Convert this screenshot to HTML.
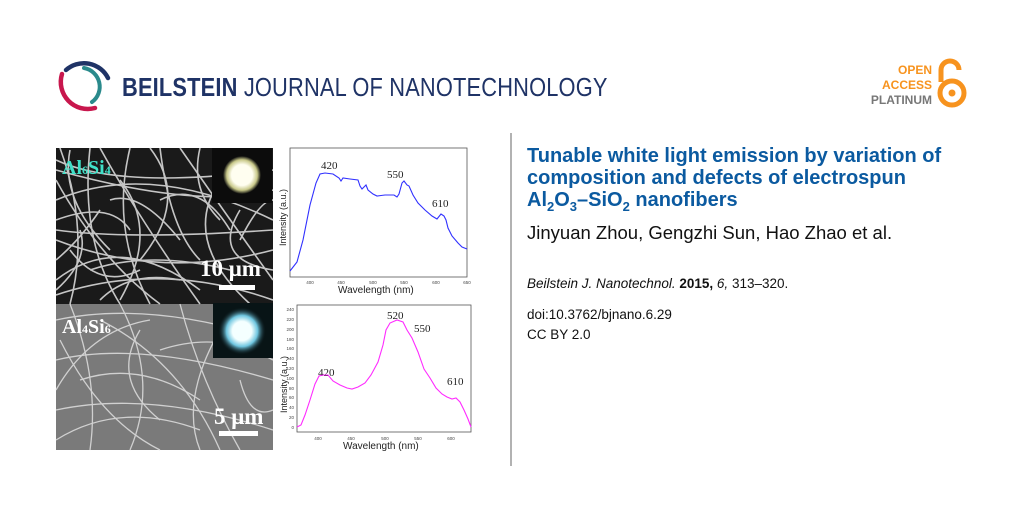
<!DOCTYPE html>
<html><head><meta charset="utf-8"><style>
body{margin:0;width:1024px;height:512px;background:#fff;overflow:hidden;position:relative;font-family:"Liberation Sans",sans-serif}
.a{position:absolute;white-space:nowrap}
</style></head><body>
<svg class="a" style="left:0;top:0" width="1024" height="512">
<!-- logo -->
<path d="M66 70 A27 27 0 0 1 108 78" fill="none" stroke="#1f3366" stroke-width="4.5" stroke-linecap="round"/>
<path d="M62 74 A27 27 0 0 0 95 108" fill="none" stroke="#c8174d" stroke-width="4.5" stroke-linecap="round"/>
<path d="M84 68 A19 19 0 0 1 92 102" fill="none" stroke="#2a8a8c" stroke-width="4" stroke-linecap="round"/>
<!-- lock -->
<path d="M941 82 L941 70 A9 9 0 0 1 959 70" fill="none" stroke="#f7931e" stroke-width="5"/>
<circle cx="952" cy="93" r="12" fill="none" stroke="#f7931e" stroke-width="5"/>
<circle cx="952" cy="93" r="3.5" fill="#f7931e"/>
<line x1="511" y1="133" x2="511" y2="466" stroke="#999" stroke-width="1.5"/>
<!-- SEM images -->
<rect x="56" y="148" width="217" height="156" fill="#1a1a1a"/>
<rect x="56" y="304" width="217" height="146" fill="#7a7a7a"/>
<g fill="none" stroke="#d8d8d8" stroke-width="1.6" opacity=".9">
<path d="M56 160 Q120 190 273 170"/><path d="M60 148 Q90 230 70 304"/><path d="M100 148 Q140 220 200 304"/>
<path d="M56 200 Q150 160 273 220"/><path d="M56 240 Q160 280 273 250"/><path d="M130 148 Q110 230 150 304"/>
<path d="M56 280 Q120 230 200 290"/><path d="M180 148 Q230 220 273 280"/><path d="M56 180 Q100 260 160 304"/>
<path d="M150 148 Q190 200 140 260"/><path d="M220 180 Q180 240 250 304"/><path d="M56 220 Q110 200 130 230"/>
<path d="M90 270 Q150 250 230 270"/><path d="M160 200 Q200 180 230 230"/><path d="M70 150 Q60 200 110 250"/>
<path d="M200 148 Q190 190 220 220"/><path d="M100 300 Q130 270 180 280"/><path d="M240 240 Q260 200 273 200"/>
<path d="M80 230 Q90 260 56 290"/><path d="M120 180 Q160 230 120 300"/><path d="M56 260 Q80 240 100 210"/>
<path d="M56 170 Q200 210 273 190"/><path d="M56 230 Q130 240 273 230"/><path d="M90 148 Q80 240 120 304"/>
<path d="M160 148 Q170 230 200 260"/><path d="M56 295 Q160 260 273 300"/><path d="M110 200 Q140 190 180 240"/>
<path d="M240 210 Q210 260 273 270"/><path d="M70 250 Q100 290 140 270"/>
</g>
<g fill="none" stroke="#e6e6e6" stroke-width="1.3" opacity=".8">
<path d="M56 320 Q150 300 273 340"/><path d="M56 360 Q140 340 273 380"/><path d="M70 304 Q100 380 90 450"/>
<path d="M120 304 Q160 380 130 450"/><path d="M180 304 Q200 380 240 450"/><path d="M56 410 Q150 390 273 430"/>
<path d="M56 440 Q120 400 200 430"/><path d="M100 320 Q180 360 220 450"/><path d="M56 390 Q90 330 150 320"/>
<path d="M160 350 Q220 330 273 360"/><path d="M60 340 Q100 420 160 450"/><path d="M220 330 Q180 400 200 450"/>
<path d="M140 330 Q110 380 160 420"/><path d="M80 380 Q140 360 200 400"/><path d="M240 380 Q250 420 273 410"/>
</g>
<rect x="212" y="148" width="60" height="55" fill="#0c0c0c"/>
<radialGradient id="g1"><stop offset=".55" stop-color="#fffef0"/><stop offset=".8" stop-color="#c9c98a"/><stop offset="1" stop-color="#0c0c0c"/></radialGradient>
<circle cx="242" cy="175" r="19" fill="url(#g1)"/>
<rect x="213" y="303" width="60" height="55" fill="#081416"/>
<radialGradient id="g2"><stop offset=".4" stop-color="#f4ffff"/><stop offset=".65" stop-color="#6fc6e0"/><stop offset="1" stop-color="#081416" stop-opacity="0"/></radialGradient>
<circle cx="242" cy="331" r="24" fill="url(#g2)"/>
<rect x="219" y="285" width="36" height="5" fill="#fff"/>
<rect x="219" y="431" width="39" height="5" fill="#fff"/>
<g font-family="Liberation Serif,serif" font-weight="bold">
<text x="62" y="174" font-size="20" fill="#3fe0c8">Al<tspan font-size="12">6</tspan>Si<tspan font-size="12">4</tspan></text>
<text x="62" y="333" font-size="20" fill="#fff">Al<tspan font-size="12">4</tspan>Si<tspan font-size="12">6</tspan></text>
<text x="200" y="276" font-size="23" fill="#fff">10 μm</text>
<text x="214" y="424" font-size="23" fill="#fff">5 μm</text>
</g>
<!-- chart 1 -->
<rect x="290" y="148" width="177" height="129" fill="none" stroke="#555" stroke-width="0.8"/>
<polyline fill="none" stroke="#3030ff" stroke-width="1.1" points="290,271 297,262 303,240 310,205 316,183 320,174 325,173 333,174 339,178 341,181 343,178 350,179 358,180 360,186 362,189 366,185 368,190 373,194 377,196 385,195 391,195 394,195 397,197 399,194 402,183 404,181 407,185 409,186 413,195 418,203 425,210 432,216 437,219 441,214 444,216 446,220 448,228 452,236 458,243 462,247 467,249"/>
<g font-family="Liberation Serif,serif" font-size="11" fill="#222">
<text x="321" y="169">420</text><text x="387" y="178">550</text><text x="432" y="207">610</text>
<text x="318" y="376">420</text><text x="387" y="319">520</text><text x="414" y="332">550</text><text x="447" y="385">610</text>
</g>
<g font-size="4.5" fill="#444" text-anchor="middle">
<text x="310" y="284">400</text><text x="341" y="284">450</text><text x="373" y="284">500</text><text x="404" y="284">550</text><text x="436" y="284">600</text><text x="467" y="284">650</text>
</g>
<text x="338" y="293" font-size="10" fill="#222">Wavelength (nm)</text>
<text transform="translate(286 246) rotate(-90)" font-size="9" fill="#222">Intensity (a.u.)</text>
<!-- chart 2 -->
<rect x="297" y="305" width="174" height="127" fill="none" stroke="#555" stroke-width="0.8"/>
<polyline fill="none" stroke="#ff2bff" stroke-width="1.1" points="297,427 301,425 305,415 310,400 315,384 319,376 323,375 328,375 333,381 340,385 347,388 352,389 358,387 365,383 371,375 378,362 383,345 386,330 390,323 397,320 403,322 407,330 412,338 418,352 424,369 430,378 436,388 442,394 447,397 452,399 456,398 460,402 464,410 468,419 471,427"/>
<g font-size="4.5" fill="#444" text-anchor="end">
<text x="294" y="429">0</text><text x="294" y="419">20</text><text x="294" y="409">40</text><text x="294" y="399">60</text><text x="294" y="390">80</text><text x="294" y="380">100</text><text x="294" y="370">120</text><text x="294" y="360">140</text><text x="294" y="350">160</text><text x="294" y="341">180</text><text x="294" y="331">200</text><text x="294" y="321">220</text><text x="294" y="311">240</text>
</g>
<g font-size="4.5" fill="#444" text-anchor="middle">
<text x="318" y="440">400</text><text x="351" y="440">450</text><text x="385" y="440">500</text><text x="418" y="440">550</text><text x="451" y="440">600</text>
</g>
<text x="343" y="449" font-size="10" fill="#222">Wavelength (nm)</text>
<text transform="translate(287 413) rotate(-90)" font-size="9" fill="#222">Intensity (a.u.)</text>
</svg>
<div class="a" style="left:122px;top:72px;font-size:26px;color:#1f3366;letter-spacing:0.2px;transform:scaleX(0.84);transform-origin:0 0"><b>BEILSTEIN</b> JOURNAL OF NANOTECHNOLOGY</div>
<div class="a" style="right:92px;top:63px;font-size:12px;font-weight:bold;line-height:15px;text-align:right;color:#f7931e">OPEN<br>ACCESS<br><span style="color:#777">PLATINUM</span></div>
<div class="a" style="left:527px;top:145px;font-size:20px;font-weight:bold;line-height:22px;color:#0b5aa0">Tunable white light emission by variation of<br>composition and defects of electrospun<br>Al<sub style="font-size:13px">2</sub>O<sub style="font-size:13px">3</sub>–SiO<sub style="font-size:13px">2</sub> nanofibers</div>
<div class="a" style="left:527px;top:222px;font-size:18.5px;color:#111">Jinyuan Zhou, Gengzhi Sun, Hao Zhao et al.</div>
<div class="a" style="left:527px;top:276px;font-size:13.5px;color:#111"><i>Beilstein J. Nanotechnol.</i> <b>2015,</b> <i>6,</i> 313–320.</div>
<div class="a" style="left:527px;top:305px;font-size:13.5px;color:#111;line-height:20px">doi:10.3762/bjnano.6.29<br>CC BY 2.0</div>
</body></html>
